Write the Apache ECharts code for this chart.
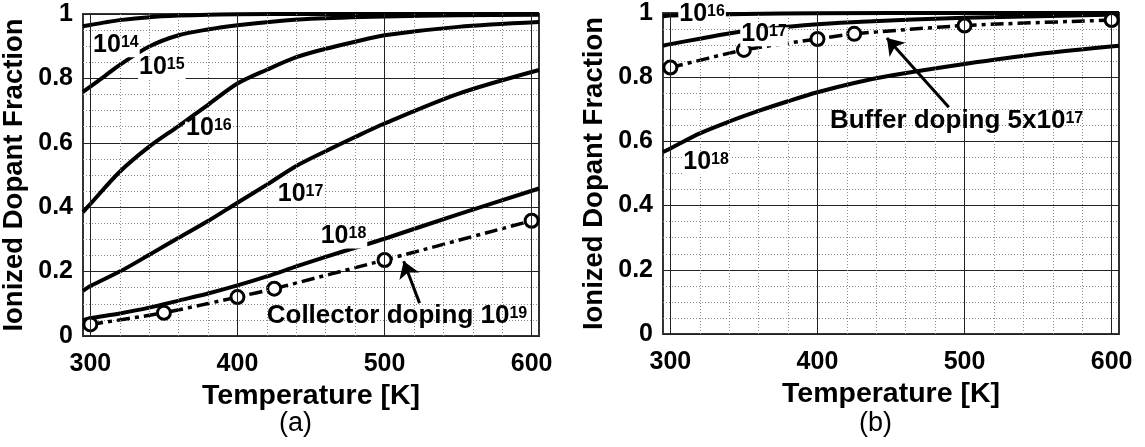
<!DOCTYPE html>
<html>
<head>
<meta charset="utf-8">
<script src="https://cdn.jsdelivr.net/npm/echarts@6/dist/echarts.min.js"></script>
<style>
  html, body { margin: 0; padding: 0; background: #fff; }
  #chart { width: 1145px; height: 447px; }
</style>
</head>
<body>
<div id="chart"></div>
<script>
// ---- Temperature grid / tick values ----
const majorT = [300, 400, 500, 600];
const minorT = [320, 340, 360, 380, 420, 440, 460, 480, 520, 540, 560, 580];

// ---- (a) collector: ionized fraction vs temperature for several dopings ----
const a14T = [295, 300, 310, 320, 340, 360, 380, 400, 450, 500, 605];
const a14V = [0.962, 0.966, 0.974, 0.981, 0.990, 0.995, 0.998, 0.999, 1.0, 1.0, 1.0];

const a15T = [295, 310, 320, 340, 360, 380, 400, 425, 450, 500, 550, 605];
const a15V = [0.758, 0.808, 0.842, 0.899, 0.934, 0.952, 0.965, 0.977, 0.985, 0.992, 0.996, 0.998];

const a16T = [295, 300, 320, 340, 360, 380, 400, 420, 440, 460, 480, 500, 550, 605];
const a16V = [0.385, 0.41, 0.51, 0.588, 0.652, 0.718, 0.784, 0.827, 0.866, 0.892, 0.914, 0.934, 0.960, 0.975];

const a17T = [295, 300, 320, 340, 360, 380, 400, 420, 440, 460, 480, 500, 550, 605];
const a17V = [0.14, 0.155, 0.2, 0.252, 0.305, 0.357, 0.414, 0.47, 0.528, 0.574, 0.618, 0.66, 0.752, 0.826];

const a18T = [295, 300, 320, 340, 360, 380, 400, 420, 440, 460, 480, 500, 550, 605];
const a18V = [0.049, 0.055, 0.07, 0.088, 0.11, 0.132, 0.157, 0.185, 0.216, 0.246, 0.274, 0.302, 0.378, 0.458];

const collT = [300, 350, 400, 425, 500, 600];
const collV = [0.036, 0.072, 0.121, 0.147, 0.236, 0.358];

// ---- (b) buffer ----
const b16T = [295, 300, 350, 400, 500, 605];
const b16V = [0.99, 0.992, 0.997, 0.999, 1.0, 1.0];

const b17T = [295, 300, 320, 345, 380, 400, 430, 500, 550, 605];
const b17V = [0.898, 0.903, 0.92, 0.94, 0.957, 0.965, 0.973, 0.985, 0.99, 0.995];

const b18T = [295, 300, 320, 340, 360, 380, 400, 425, 450, 500, 550, 605];
const b18V = [0.567, 0.578, 0.625, 0.662, 0.695, 0.725, 0.753, 0.782, 0.805, 0.841, 0.872, 0.898];

const bufT = [300, 350, 400, 425, 500, 600];
const bufV = [0.83, 0.885, 0.919, 0.935, 0.961, 0.978];

// ---- helpers / styles ----
const FONT = '"Liberation Sans", Arial, Helvetica, sans-serif';
const zip = (t, v) => t.map((x, i) => [x, v[i]]);

const txt = { fontWeight: 'bold', fontFamily: FONT, color: '#000', textBorderWidth: 0, textShadowBlur: 0, opacity: 1 };
// base text sits on the line bottom; the exponent is lifted with bottom padding
const richStyles = {
  b: Object.assign({ fontSize: 25, lineHeight: 19, verticalAlign: 'bottom' }, txt),
  t: Object.assign({ fontSize: 26, lineHeight: 20, verticalAlign: 'bottom' }, txt),
  s: Object.assign({ fontSize: 16, lineHeight: 16, verticalAlign: 'bottom', padding: [0, 0, 7, 0] }, txt)
};

function curve(g, data) {
  return {
    type: 'line', xAxisIndex: g, yAxisIndex: g, data: data,
    showSymbol: false, smooth: 0.3, z: 3, silent: true,
    lineStyle: { color: '#000', width: 4 }
  };
}

function dopingCurve(g, data) {
  return {
    type: 'line', xAxisIndex: g, yAxisIndex: g, data: data,
    showSymbol: true, symbol: 'circle', symbolSize: 13, smooth: 0.2, z: 4, silent: true,
    lineStyle: { color: '#000', width: 3.5, type: [13, 5, 4, 5] },
    itemStyle: { color: '#fff', borderColor: '#000', borderWidth: 3, opacity: 1 }
  };
}

function gridLines(g) {
  return {
    type: 'line', xAxisIndex: g, yAxisIndex: g, data: [], z: 1, silent: true,
    markLine: {
      silent: true, animation: false, symbol: ['none', 'none'],
      label: { show: false },
      data: majorT.map(t => ({ xAxis: t, lineStyle: { color: '#222', width: 1, type: 'solid' } }))
        .concat(minorT.map(t => ({ xAxis: t, lineStyle: { color: '#8a8a8a', width: 1, type: [1, 2] } })))
    }
  };
}

function arrow(g, from, to) {
  return {
    type: 'line', xAxisIndex: g, yAxisIndex: g, data: [], z: 5, silent: true,
    markLine: {
      silent: true, animation: false, symbol: ['none', 'arrow'], symbolSize: 16,
      label: { show: false },
      lineStyle: { color: '#000', width: 3, type: 'solid', opacity: 1 },
      data: [[{ coord: from }, { coord: to }]]
    }
  };
}

function labels(g, items) {
  return {
    type: 'scatter', xAxisIndex: g, yAxisIndex: g, symbolSize: 0, z: 6, silent: true,
    itemStyle: { opacity: 1 },
    data: items.map(it => ({
      value: it.at,
      itemStyle: { opacity: 1 },
      label: Object.assign({
        show: true, position: [0, 0], align: 'left', verticalAlign: 'middle',
        formatter: it.text, rich: richStyles,
        backgroundColor: it.bg ? '#fff' : 'transparent', padding: it.bg ? [0, 1, 0, 1] : 0
      }, txt)
    }))
  };
}

function xAxis(g) {
  return {
    type: 'value', gridIndex: g, min: 295, max: 605,
    axisLine: { show: false }, axisTick: { show: false }, splitLine: { show: false },
    axisLabel: { customValues: majorT, fontSize: 25, fontWeight: 'bold', fontFamily: FONT, color: '#000', margin: 16 },
    name: 'Temperature [K]', nameLocation: 'middle', nameGap: 35,
    nameTextStyle: { fontSize: 28.5, fontWeight: 'bold', fontFamily: FONT, color: '#000' }
  };
}

function yAxis(g) {
  return {
    type: 'value', gridIndex: g, min: 0, max: 1, interval: 0.2,
    axisLine: { show: false }, axisTick: { show: false },
    axisLabel: { fontSize: 25, fontWeight: 'bold', fontFamily: FONT, color: '#000', margin: 10 },
    splitLine: { show: true, lineStyle: { color: '#222', width: 1 } },
    minorTick: { show: false, splitNumber: 4 },
    minorSplitLine: { show: true, lineStyle: { color: '#8a8a8a', width: 1, type: [1, 2] } },
    name: 'Ionized Dopant Fraction', nameLocation: 'middle', nameGap: 55,
    nameTextStyle: { fontSize: 27.5, fontWeight: 'bold', fontFamily: FONT, color: '#000' }
  };
}

const chart = echarts.init(document.getElementById('chart'), null, { renderer: 'canvas' });

chart.setOption({
  animation: false,
  backgroundColor: '#fff',
  grid: [
    { left: 83, top: 14, width: 456, height: 322, show: true, borderColor: '#333', borderWidth: 2, outerBoundsMode: 'none' },
    { left: 663, top: 13, width: 456, height: 321, show: true, borderColor: '#333', borderWidth: 2, outerBoundsMode: 'none' }
  ],
  xAxis: [xAxis(0), xAxis(1)],
  yAxis: [yAxis(0), yAxis(1)],
  graphic: [
    { type: 'text', left: 279, top: 410, style: { text: '(a)', fontSize: 27, fontFamily: FONT, fill: '#000' } },
    { type: 'text', left: 859, top: 410, style: { text: '(b)', fontSize: 27, fontFamily: FONT, fill: '#000' } }
  ],
  series: [
    gridLines(0),
    curve(0, zip(a14T, a14V)),
    curve(0, zip(a15T, a15V)),
    curve(0, zip(a16T, a16V)),
    curve(0, zip(a17T, a17V)),
    curve(0, zip(a18T, a18V)),
    dopingCurve(0, zip(collT, collV)),
    arrow(0, [523.8, 0.102], [513, 0.232]),
    labels(0, [
      { at: [301.2, 0.895], text: '{b|10}{s|14}', bg: true },
      { at: [332.4, 0.827], text: '{b|10}{s|15}', bg: true },
      { at: [364.4, 0.637], text: '{b|10}{s|16}', bg: true },
      { at: [426.7, 0.430], text: '{b|10}{s|17}', bg: true },
      { at: [455.9, 0.301], text: '{b|10}{s|18}', bg: true },
      { at: [419.9, 0.054], text: '{t|Collector doping 10}{s|19}', bg: false }
    ]),

    gridLines(1),
    curve(1, zip(b16T, b16V)),
    curve(1, zip(b17T, b17V)),
    curve(1, zip(b18T, b18V)),
    dopingCurve(1, zip(bufT, bufV)),
    arrow(1, [489.3, 0.706], [447.2, 0.922]),
    labels(1, [
      { at: [305.4, 0.986], text: '{b|10}{s|16}', bg: true },
      { at: [347.5, 0.926], text: '{b|10}{s|17}', bg: true },
      { at: [308.1, 0.526], text: '{b|10}{s|18}', bg: true },
      { at: [408.5, 0.656], text: '{t|Buffer doping 5x10}{s|17}', bg: false }
    ])
  ]
});
</script>
</body>
</html>
